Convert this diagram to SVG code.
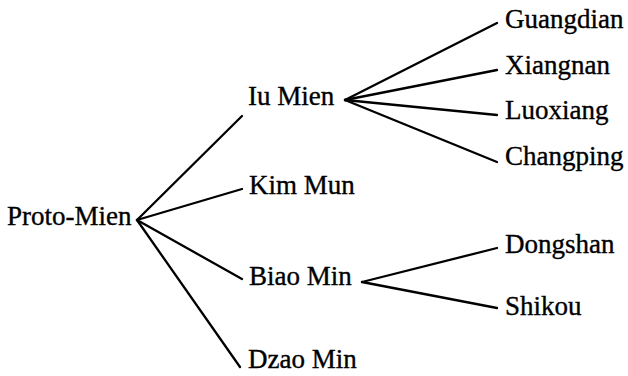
<svg xmlns="http://www.w3.org/2000/svg" width="628" height="376" viewBox="0 0 628 376">
  <style>
    .lbl { font-family: "Liberation Serif", "Times New Roman", serif; font-size: 27px; fill: #000; stroke: #000; stroke-width: 0.35; }
    .edge { stroke: #000; stroke-width: 2.3; fill: none; stroke-linecap: round; }
  </style>
  <rect width="628" height="376" fill="#fff"/>
  <g id="connectors">
    <line class="edge" x1="137" y1="220" x2="242" y2="116"/>
    <line class="edge" x1="137" y1="220" x2="242" y2="189"/>
    <line class="edge" x1="137" y1="220" x2="242" y2="279"/>
    <line class="edge" x1="137" y1="220" x2="240" y2="367"/>
    <line class="edge" x1="345" y1="100" x2="497" y2="23"/>
    <line class="edge" x1="345" y1="100" x2="497" y2="70"/>
    <line class="edge" x1="345" y1="100" x2="497" y2="115"/>
    <line class="edge" x1="345" y1="100" x2="497" y2="162"/>
    <line class="edge" x1="362" y1="282" x2="497" y2="248"/>
    <line class="edge" x1="362" y1="282" x2="497" y2="308"/>
  </g>
  <g id="proto-mien"><text class="lbl" x="7" y="225">Proto-Mien</text></g>
  <g id="iu-mien"><text class="lbl" x="248" y="105">Iu Mien</text></g>
  <g id="kim-mun"><text class="lbl" x="249" y="194">Kim Mun</text></g>
  <g id="biao-min"><text class="lbl" x="249" y="285">Biao Min</text></g>
  <g id="dzao-min"><text class="lbl" x="248" y="368">Dzao Min</text></g>
  <g id="guangdian"><text class="lbl" x="505" y="28">Guangdian</text></g>
  <g id="xiangnan"><text class="lbl" x="505" y="74">Xiangnan</text></g>
  <g id="luoxiang"><text class="lbl" x="505" y="119">Luoxiang</text></g>
  <g id="changping"><text class="lbl" x="505" y="165">Changping</text></g>
  <g id="dongshan"><text class="lbl" x="505" y="253">Dongshan</text></g>
  <g id="shikou"><text class="lbl" x="505" y="315">Shikou</text></g>
</svg>
